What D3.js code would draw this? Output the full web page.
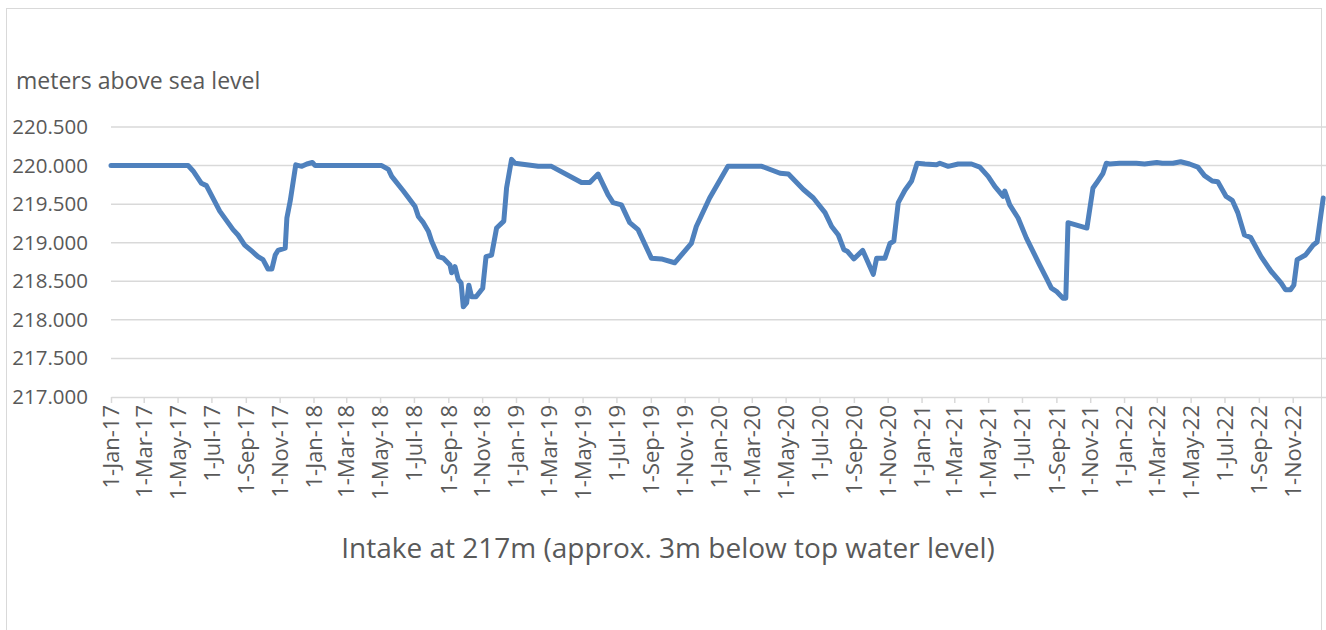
<!DOCTYPE html>
<html>
<head>
<meta charset="utf-8">
<script src="https://cdn.jsdelivr.net/npm/d3@7"></script>
<style>
  body { margin: 0; background: #fff; }
  svg { display: block; font-family: "Open Sans", sans-serif; }
  .axis { font-family: "Open Sans", sans-serif; }
  .axis text { fill: #595959; }
  .axis path, .axis line { stroke: #d9d9d9; }
</style>
</head>
<body>
<div id="chart"></div>
<script>
// water level readings (date, meters above sea level)
var dates = [
  "2017-01-01","2017-05-20","2017-05-29","2017-06-13","2017-06-22","2017-07-16","2017-08-09","2017-08-18",
  "2017-08-30","2017-09-12","2017-09-23","2017-10-02","2017-10-11","2017-10-18","2017-10-24","2017-10-29",
  "2017-11-11","2017-11-14","2017-11-20","2017-11-30","2017-12-11","2017-12-20","2017-12-30","2018-01-04",
  "2018-05-04","2018-05-16","2018-05-22","2018-06-12","2018-07-03","2018-07-09","2018-07-18","2018-07-27",
  "2018-08-02","2018-08-14","2018-08-23","2018-09-04","2018-09-07","2018-09-13","2018-09-19","2018-09-24",
  "2018-09-28","2018-10-04","2018-10-08","2018-10-13","2018-10-21","2018-11-02","2018-11-08","2018-11-18",
  "2018-11-27","2018-12-10","2018-12-15","2018-12-24","2018-12-30","2019-02-10","2019-03-06","2019-04-29",
  "2019-05-14","2019-05-29","2019-06-16","2019-06-25","2019-07-10","2019-07-25","2019-08-09","2019-09-02",
  "2019-09-20","2019-10-14","2019-11-13","2019-11-22","2019-12-16","2020-01-18","2020-03-19","2020-04-21",
  "2020-05-06","2020-06-02","2020-06-20","2020-07-11","2020-07-23","2020-08-04","2020-08-14","2020-08-20",
  "2020-09-01","2020-09-17","2020-10-06","2020-10-12","2020-10-27","2020-11-05","2020-11-12","2020-11-20",
  "2020-12-02","2020-12-14","2020-12-24","2021-01-07","2021-01-28","2021-02-03","2021-02-18","2021-03-08",
  "2021-04-01","2021-04-16","2021-05-01","2021-05-13","2021-05-28","2021-05-31","2021-06-09","2021-06-24",
  "2021-07-09","2021-08-02","2021-08-14","2021-08-23","2021-09-01","2021-09-13","2021-09-18","2021-09-22",
  "2021-10-26","2021-11-06","2021-11-12","2021-11-24","2021-11-30","2021-12-06","2021-12-24","2022-01-23",
  "2022-02-07","2022-03-01","2022-03-11","2022-03-30","2022-04-13","2022-04-29","2022-05-14","2022-05-26",
  "2022-06-09","2022-06-19","2022-07-04","2022-07-15","2022-07-25","2022-08-06","2022-08-17","2022-09-05",
  "2022-09-23","2022-10-11","2022-10-19","2022-10-28","2022-11-03","2022-11-09","2022-11-24","2022-12-08",
  "2022-12-15","2022-12-26"
];
var levels = [
  220.00,220.00,219.93,219.77,219.74,219.41,219.17,219.10,
  218.97,218.89,218.82,218.78,218.66,218.66,218.84,218.90,
  218.93,219.32,219.54,220.01,219.99,220.02,220.04,220.00,
  220.00,219.95,219.86,219.67,219.47,219.34,219.26,219.15,
  219.02,218.82,218.80,218.71,218.61,218.69,218.52,218.48,
  218.17,218.22,218.45,218.30,218.30,218.41,218.82,218.84,
  219.19,219.28,219.71,220.08,220.03,219.99,219.99,219.78,
  219.78,219.89,219.62,219.52,219.49,219.26,219.17,218.80,
  218.79,218.74,218.99,219.21,219.58,219.99,219.99,219.90,
  219.89,219.69,219.58,219.39,219.21,219.10,218.91,218.89,
  218.79,218.90,218.59,218.80,218.80,218.99,219.02,219.52,
  219.68,219.80,220.03,220.02,220.01,220.03,219.99,220.02,
  220.02,219.98,219.86,219.73,219.60,219.67,219.49,219.32,
  219.06,218.71,218.54,218.41,218.37,218.28,218.28,219.26,
  219.19,219.71,219.77,219.90,220.03,220.02,220.03,220.03,
  220.02,220.04,220.03,220.03,220.05,220.02,219.98,219.87,
  219.80,219.79,219.60,219.55,219.39,219.10,219.07,218.82,
  218.63,218.48,218.39,218.39,218.45,218.78,218.84,218.97,
  219.01,219.58
];
var yTicks = [217, 217.5, 218, 218.5, 219, 219.5, 220, 220.5];
var xStart = "2017-01-01", xEnd = "2022-12-31";
var yLabel = "meters above sea level";
var title = "Intake at 217m (approx. 3m below top water level)";

var parseDate = d3.timeParse("%Y-%m-%d");
var data = dates.map(function(d, i) { return {date: parseDate(d), level: levels[i]}; });

var svg = d3.select("#chart").append("svg").attr("width", 1326).attr("height", 630),
    margin = {top: 127, right: 0, bottom: 233, left: 111},
    width = +svg.attr("width") - margin.left - margin.right,
    height = +svg.attr("height") - margin.top - margin.bottom;

// chart frame
svg.append("rect")
    .attr("x", 6.5).attr("y", 8.5).attr("width", 1315).attr("height", 640)
    .attr("fill", "none").attr("stroke", "#d9d9d9");

var x = d3.scaleTime().domain([parseDate(xStart), parseDate(xEnd)]).range([0, width]);
var y = d3.scaleLinear().domain([217, 220.5]).range([height, 0]);

var g = svg.append("g").attr("transform", "translate(" + margin.left + "," + margin.top + ")");

// gridlines
g.append("g")
    .attr("class", "grid")
    .selectAll("line")
    .data(yTicks.slice(1))
    .enter().append("line")
    .attr("x1", 0).attr("x2", width)
    .attr("y1", function(d) { return y(d); })
    .attr("y2", function(d) { return y(d); })
    .attr("stroke", "#d9d9d9").attr("stroke-width", 1.5);

// y axis labels
var yAxis = g.append("g")
    .attr("class", "axis y")
    .call(d3.axisLeft(y).tickValues(yTicks).tickFormat(d3.format(".3f")).tickSize(0).tickPadding(23));
yAxis.attr("font-family", null);
yAxis.select(".domain").remove();
yAxis.selectAll("text").style("font-size", "20.5px");

// x axis
var xAxis = g.append("g")
    .attr("class", "axis x")
    .attr("transform", "translate(0," + height + ")")
    .call(d3.axisBottom(x).ticks(d3.timeMonth.every(2)).tickFormat(d3.timeFormat("%-d-%b-%y")).tickSizeInner(6).tickSizeOuter(0));
xAxis.attr("font-family", null);
xAxis.select(".domain").attr("stroke-width", 1.5);
xAxis.selectAll("line").attr("stroke-width", 1.5);
xAxis.selectAll("text")
    .style("font-size", "22px")
    .style("text-anchor", "end")
    .attr("transform", "rotate(-90)")
    .attr("x", -8)
    .attr("y", 0)
    .attr("dy", "0.35em");

// level line
var line = d3.line()
    .x(function(d) { return x(d.date); })
    .y(function(d) { return y(d.level); });

g.append("path")
    .datum(data)
    .attr("fill", "none")
    .attr("stroke", "#4f81bd")
    .attr("stroke-width", 5)
    .attr("stroke-linejoin", "round")
    .attr("stroke-linecap", "round")
    .attr("d", line);

svg.append("text")
    .attr("x", 16).attr("y", 89)
    .attr("fill", "#595959")
    .style("font-size", "23px")
    .text(yLabel);

svg.append("text")
    .attr("x", 668).attr("y", 558)
    .attr("text-anchor", "middle")
    .attr("fill", "#595959")
    .style("font-size", "28px")
    .text(title);
</script>
</body>
</html>
